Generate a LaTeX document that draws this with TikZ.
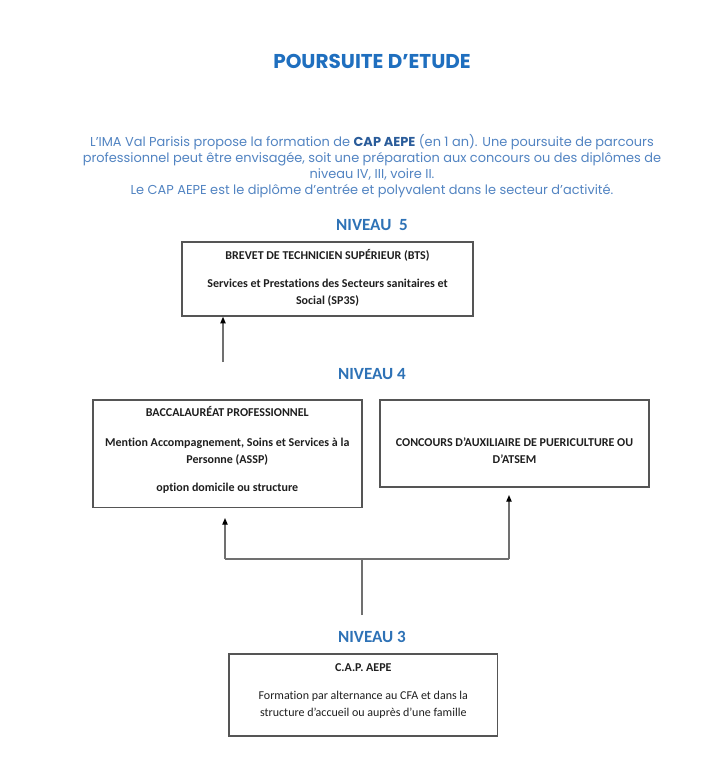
\documentclass[tikz,border=0pt]{standalone}
\usepackage{fontspec}
\setmainfont{Carlito}[Ligatures=NoCommon]
\newfontfamily\gothic{Poppins}
\usetikzlibrary{arrows.meta}
\definecolor{titleblue}{HTML}{1F6FBF}
\definecolor{parablue}{HTML}{5284C2}
\definecolor{parabold}{HTML}{2A5C9A}
\definecolor{niveaublue}{HTML}{2E72B6}
\definecolor{boxline}{HTML}{555555}
\definecolor{arrowline}{HTML}{707070}
\tikzset{
  box/.style={draw=boxline, line width=1.1pt, rectangle, inner sep=0pt},
  boxtext/.style={font=\fontsize{9}{12.75}\selectfont\bfseries, text=black!88, align=center, inner sep=0pt},
  niveau/.style={font=\fontsize{12.8}{15}\selectfont\bfseries, text=niveaublue, inner sep=0pt},
  link/.style={draw=arrowline, line width=0.9pt},
  arrowlink/.style={link, -{Triangle[length=5pt,width=4pt,fill=black,color=black]}},
}
\begin{document}
\begin{tikzpicture}[x=0.75pt,y=-0.75pt]
\useasboundingbox (0,0) rectangle (726,764);
\fill[white] (0,0) rectangle (726,764);
% title
\node[font=\gothic\fontsize{15}{18}\selectfont\bfseries, text=titleblue, inner sep=0pt] (title) at (372,61) {POURSUITE D’ETUDE};
% paragraph
\node[font=\gothic\fontsize{9.7}{12}\selectfont, text=parablue, align=center, inner sep=0pt] (intro) at (372,166)
 {L’IMA Val Parisis propose la formation de {\bfseries\color{parabold}CAP AEPE} (en 1 an). Une poursuite de parcours\\
  professionnel peut être envisagée, soit une préparation aux concours ou des diplômes de\\
  niveau IV, III, voire II.\\
  Le CAP AEPE est le diplôme d’entrée et polyvalent dans le secteur d’activité.};
% niveau labels
\node[niveau] (n5) at (372,225) {NIVEAU\ \ 5};
\node[niveau] (n4) at (372,374) {NIVEAU 4};
\node[niveau] (n3) at (372,637) {NIVEAU 3};
% boxes
\node[box, minimum width=291*0.75pt, minimum height=74*0.75pt] (bts) at (327.5,279) {};
\node[boxtext, anchor=north] (btstext) at ([yshift=-6pt]bts.north)
 {BREVET DE TECHNICIEN SUPÉRIEUR (BTS)\\[8.25pt]
  Services et Prestations des Secteurs sanitaires et\\ Social (SP3S)};
\node[box, minimum width=269*0.75pt, minimum height=107.7*0.75pt] (bac) at (227.3,453.8) {};
\node[boxtext, anchor=north] (bactext) at ([yshift=-5pt]bac.north)
 {BACCALAURÉAT PROFESSIONNEL\\[9.75pt]
  Mention Accompagnement, Soins et Services à la\\ Personne (ASSP)\\[8.25pt]
  option domicile ou structure};
\node[box, minimum width=269*0.75pt, minimum height=87*0.75pt] (conc) at (514.5,443.5) {};
\node[boxtext] (conctext) at ([yshift=-5.5pt]conc.center)
 {CONCOURS D’AUXILIAIRE DE PUERICULTURE OU\\ D’ATSEM};
\node[box, minimum width=268.7*0.75pt, minimum height=82*0.75pt] (cap) at (363.3,695) {};
\node[boxtext, anchor=north, font=\fontsize{9}{12.75}\selectfont] (captext) at ([yshift=-7.25pt]cap.north)
 {\bfseries C.A.P. AEPE\\[8.25pt]
  Formation par alternance au CFA et dans la\\ structure d’accueil ou auprès d’une famille};
% connectors
\coordinate (btsfoot) at (223,362);
\coordinate (capfoot) at (362,615);
\coordinate (junction) at (362,559);
\coordinate (leftcorner) at (225,559);
\coordinate (rightcorner) at (509,559);
\coordinate (bactip) at (225,518);
\coordinate (conctip) at (509,495);
\draw[arrowlink] (btsfoot) -- (btsfoot |- bts.south);
\draw[link] (capfoot) -- (junction);
\draw[link] (leftcorner) -- (rightcorner);
\draw[arrowlink] (leftcorner) -- (bactip);
\draw[arrowlink] (rightcorner) -- (conctip);
\end{tikzpicture}
\end{document}
